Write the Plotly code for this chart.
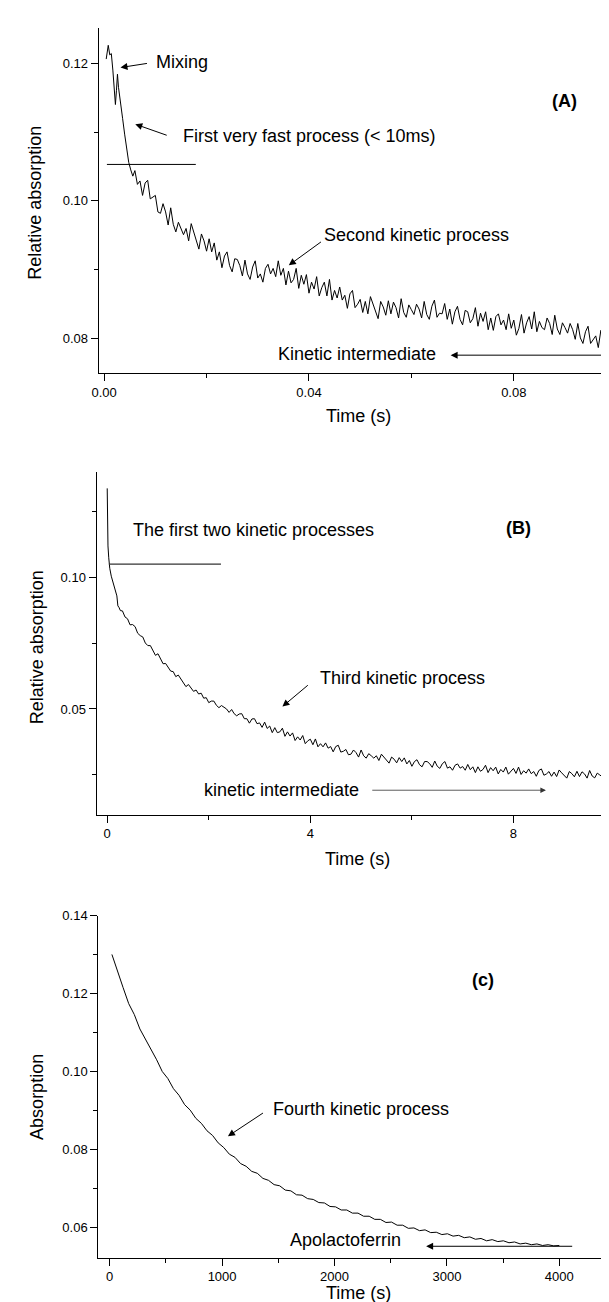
import plotly.graph_objects as go

# ---------------- Panel A data (time in s, relative absorption) ----------------
A_t_early = [0.0004, 0.0008, 0.0011, 0.0014, 0.0017, 0.0020, 0.0022, 0.0024, 0.0026,
             0.0028, 0.0030, 0.0033, 0.0036, 0.0040, 0.0044, 0.0048, 0.0052, 0.0056]
A_y_early = [0.1206, 0.1226, 0.1212, 0.1214, 0.1190, 0.1165, 0.1140, 0.1160, 0.1184,
             0.1165, 0.1152, 0.1138, 0.1120, 0.1097, 0.1074, 0.1056, 0.1045, 0.1036]
A_t_start = 0.0060
A_t_step = 0.0005
A_y_late = [
    0.1044, 0.1024, 0.1029, 0.1008, 0.1026, 0.1030, 0.1003, 0.1005, 0.1008, 0.0984,
    0.0982, 0.0996, 0.0984, 0.0965, 0.0990, 0.0966, 0.0955, 0.0969, 0.0960, 0.0951,
    0.0960, 0.0942, 0.0967, 0.0954, 0.0941, 0.0930, 0.0952, 0.0942, 0.0927, 0.0945,
    0.0926, 0.0939, 0.0914, 0.0926, 0.0903, 0.0920, 0.0926, 0.0906, 0.0897, 0.0916,
    0.0915, 0.0906, 0.0891, 0.0914, 0.0894, 0.0886, 0.0904, 0.0913, 0.0888, 0.0894,
    0.0882, 0.0902, 0.0908, 0.0894, 0.0902, 0.0890, 0.0913, 0.0892, 0.0902, 0.0878,
    0.0898, 0.0881, 0.0886, 0.0902, 0.0873, 0.0892, 0.0879, 0.0893, 0.0866, 0.0882,
    0.0872, 0.0890, 0.0862, 0.0874, 0.0882, 0.0862, 0.0886, 0.0856, 0.0870, 0.0859,
    0.0875, 0.0856, 0.0863, 0.0844, 0.0865, 0.0870, 0.0845, 0.0850, 0.0857, 0.0838,
    0.0854, 0.0836, 0.0861, 0.0850, 0.0839, 0.0829, 0.0854, 0.0846, 0.0834, 0.0855,
    0.0836, 0.0853, 0.0845, 0.0830, 0.0858, 0.0838, 0.0831, 0.0849, 0.0842, 0.0835,
    0.0850, 0.0843, 0.0830, 0.0854, 0.0835, 0.0828, 0.0847, 0.0856, 0.0831, 0.0837,
    0.0836, 0.0851, 0.0828, 0.0843, 0.0821, 0.0839, 0.0847, 0.0828, 0.0820, 0.0841,
    0.0839, 0.0823, 0.0829, 0.0845, 0.0818, 0.0837, 0.0825, 0.0839, 0.0813, 0.0830,
    0.0812, 0.0832, 0.0836, 0.0820, 0.0827, 0.0813, 0.0836, 0.0815, 0.0827, 0.0805,
    0.0815, 0.0835, 0.0808, 0.0823, 0.0832, 0.0814, 0.0839, 0.0810, 0.0825, 0.0816,
    0.0813, 0.0830, 0.0822, 0.0806, 0.0834, 0.0814, 0.0806, 0.0823, 0.0816, 0.0808,
    0.0822, 0.0813, 0.0799, 0.0822, 0.0801, 0.0793, 0.0810, 0.0818, 0.0793, 0.0798,
    0.0804, 0.0787, 0.0812, 0.0801, 0.0790, 0.0781, 0.0805, 0.0798,
]

# ---------------- Panel B data ----------------
B_t_early = [0.0, 0.005, 0.015, 0.03, 0.05, 0.08, 0.11, 0.14, 0.17, 0.19, 0.21, 0.23, 0.26]
B_y_early = [0.1339, 0.1250, 0.1120, 0.1075, 0.1035, 0.1005, 0.0985, 0.0962, 0.0945,
             0.0930, 0.0892, 0.0887, 0.0874]
B_t_start = 0.30
B_t_step = 0.05
B_y_late = [
    0.0873, 0.0850, 0.0843, 0.0820, 0.0821, 0.0813, 0.0788, 0.0779, 0.0774, 0.0751,
    0.0741, 0.0741, 0.0724, 0.0704, 0.0710, 0.0688, 0.0672, 0.0673, 0.0659, 0.0644,
    0.0642, 0.0623, 0.0629, 0.0614, 0.0599, 0.0585, 0.0593, 0.0581, 0.0567, 0.0572,
    0.0557, 0.0560, 0.0541, 0.0543, 0.0524, 0.0530, 0.0530, 0.0514, 0.0505, 0.0513,
    0.0508, 0.0500, 0.0487, 0.0498, 0.0482, 0.0474, 0.0481, 0.0482, 0.0463, 0.0463,
    0.0446, 0.0462, 0.0463, 0.0444, 0.0447, 0.0430, 0.0450, 0.0426, 0.0435, 0.0410,
    0.0429, 0.0410, 0.0413, 0.0427, 0.0396, 0.0413, 0.0397, 0.0409, 0.0380, 0.0394,
    0.0382, 0.0399, 0.0368, 0.0379, 0.0385, 0.0364, 0.0386, 0.0356, 0.0368, 0.0356,
    0.0371, 0.0351, 0.0357, 0.0337, 0.0357, 0.0362, 0.0336, 0.0339, 0.0346, 0.0326,
    0.0328, 0.0344, 0.0334, 0.0317, 0.0344, 0.0322, 0.0313, 0.0330, 0.0322, 0.0313,
    0.0322, 0.0304, 0.0328, 0.0316, 0.0304, 0.0294, 0.0317, 0.0309, 0.0295, 0.0315,
    0.0300, 0.0314, 0.0291, 0.0304, 0.0282, 0.0300, 0.0307, 0.0288, 0.0280, 0.0300,
    0.0300, 0.0292, 0.0278, 0.0302, 0.0282, 0.0274, 0.0292, 0.0300, 0.0275, 0.0280,
    0.0267, 0.0286, 0.0291, 0.0275, 0.0281, 0.0267, 0.0289, 0.0269, 0.0280, 0.0258,
    0.0280, 0.0263, 0.0270, 0.0286, 0.0258, 0.0277, 0.0265, 0.0279, 0.0253, 0.0270,
    0.0260, 0.0279, 0.0252, 0.0265, 0.0274, 0.0255, 0.0279, 0.0251, 0.0265, 0.0256,
    0.0272, 0.0254, 0.0262, 0.0244, 0.0266, 0.0272, 0.0248, 0.0253, 0.0262, 0.0244,
    0.0260, 0.0243, 0.0268, 0.0257, 0.0247, 0.0237, 0.0262, 0.0254, 0.0242, 0.0263,
    0.0243, 0.0261, 0.0253, 0.0237, 0.0266, 0.0245, 0.0238, 0.0256, 0.0249, 0.0242,
    0.0257, 0.0235, 0.0251, 0.0282,
]

# ---------------- Panel C data ----------------
C_t_start = 20.0
C_t_end = 4000.0
C_y = [
    0.1301, 0.1256, 0.1216, 0.1175, 0.1147, 0.1110, 0.1084, 0.1054, 0.1031, 0.1001,
    0.0983, 0.0957, 0.0940, 0.0916, 0.0902, 0.0881, 0.0868, 0.0849, 0.0837, 0.0818,
    0.0806, 0.0789, 0.0781, 0.0765, 0.0758, 0.0745, 0.0740, 0.0727, 0.0722, 0.0711,
    0.0708, 0.0697, 0.0695, 0.0685, 0.0684, 0.0675, 0.0673, 0.0665, 0.0664, 0.0655,
    0.0654, 0.0646, 0.0646, 0.0638, 0.0638, 0.0630, 0.0630, 0.0622, 0.0622, 0.0614,
    0.0615, 0.0607, 0.0607, 0.0599, 0.0600, 0.0593, 0.0595, 0.0588, 0.0589, 0.0583,
    0.0585, 0.0579, 0.0581, 0.0575, 0.0577, 0.0571, 0.0573, 0.0567, 0.0570, 0.0565,
    0.0567, 0.0562, 0.0564, 0.0559, 0.0561, 0.0557, 0.0559, 0.0555, 0.0557, 0.0554,
    0.0555,
]

# tick labels
A_xticks = [0.00, 0.04, 0.08]
A_yticks = [0.08, 0.10, 0.12]
B_xticks = [0, 4, 8]
B_yticks = [0.05, 0.10]
C_xticks = [0, 1000, 2000, 3000, 4000]
C_yticks = [0.06, 0.08, 0.10, 0.12, 0.14]

# build sampling grids
A_t = A_t_early + [round(A_t_start + A_t_step * i, 6) for i in range(len(A_y_late))]
A_y = A_y_early + A_y_late
B_t = B_t_early + [round(B_t_start + B_t_step * i, 4) for i in range(len(B_y_late))]
B_y = B_y_early + B_y_late
nC = len(C_y)
C_t = [C_t_start + (C_t_end - C_t_start) * i / (nC - 1) for i in range(nC)]

W, H = 609, 1302
FONT = "Liberation Sans, Arial, sans-serif"


def px(x):
    return x / W


def py(y):
    return 1 - y / H


fig = go.Figure()
line = dict(color="black", width=1)
fig.add_trace(go.Scatter(x=A_t, y=A_y, mode="lines", line=line, xaxis="x", yaxis="y"))
fig.add_trace(go.Scatter(x=B_t, y=B_y, mode="lines", line=line, xaxis="x2", yaxis="y2"))
fig.add_trace(go.Scatter(x=C_t, y=C_y, mode="lines", line=line, xaxis="x3", yaxis="y3"))


def axis(domain, rng, ticks, fmt, minor_dtick, anchor):
    return dict(
        domain=domain, range=rng, anchor=anchor,
        tickmode="array", tickvals=ticks, tickformat=fmt,
        showline=True, linecolor="black", linewidth=1.3,
        ticks="outside", ticklen=7, tickwidth=1.2, tickcolor="black",
        minor=dict(dtick=minor_dtick, tick0=0, ticks="outside", ticklen=4,
                   tickwidth=1, tickcolor="black"),
        showgrid=False, zeroline=False,
        tickfont=dict(family=FONT, size=13, color="black"),
    )


layout = dict(
    width=W, height=H,
    margin=dict(l=0, r=0, t=0, b=0),
    paper_bgcolor="white", plot_bgcolor="white",
    showlegend=False,
    font=dict(family=FONT, color="black"),
    xaxis=axis([px(84.8), px(608.2)], [-0.00104, 0.1], A_xticks, ".2f", 0.02, "y"),
    yaxis=axis([py(360), py(13.5)], [0.075, 0.12505], A_yticks, ".2f", 0.01, "x"),
    xaxis2=axis([px(82.6), px(607)], [-0.208, 10.0], B_xticks, "d", 2, "y2"),
    yaxis2=axis([py(804), py(459)], [0.0098, 0.1403], B_yticks, ".2f", 0.025, "x2"),
    xaxis3=axis([px(84.4), px(607.5)], [-100, 4500], C_xticks, "d", 500, "y3"),
    yaxis3=axis([py(1249.3), py(905.7)], [0.0524, 0.14], C_yticks, ".2f", 0.01, "x3"),
)
fig.update_layout(**layout)

ann = []
TF = dict(family=FONT, size=18, color="black")


def text(x, y, s, xr, yr, bold=False, angle=0, pad=1):
    ann.append(dict(x=x, y=y, xref=xr, yref=yr, text=("<b>%s</b>" % s if bold else s),
                    showarrow=False, xanchor="center", yanchor="middle",
                    font=TF, textangle=angle, borderpad=pad))


def arrow(x, y, ax, ay, xr, yr, color="black", width=1):
    ann.append(dict(x=x, y=y, ax=ax, ay=ay, xref=xr, yref=yr, axref=xr, ayref=yr,
                    text="", showarrow=True, arrowhead=2, arrowsize=1.4,
                    arrowwidth=width, arrowcolor=color, standoff=0, startstandoff=0))


# axis titles (paper coords from pixel positions)
text(px(20), py(189), "Relative absorption", "paper", "paper", angle=-90)
text(px(347.5), py(403), "Time (s)", "paper", "paper")
text(px(22), py(636), "Relative absorption", "paper", "paper", angle=-90)
text(px(346), py(849), "Time (s)", "paper", "paper")
text(px(22), py(1088), "Absorption", "paper", "paper", angle=-90)
text(px(347), py(1285), "Time (s)", "paper", "paper", pad=0)

# Panel A annotations
text(0.01521, 0.1202, "Mixing", "x", "y")
arrow(0.00319, 0.11937, 0.00865, 0.1200, "x", "y")
text(0.04012, 0.10946, "First very fast process (&lt; 10ms)", "x", "y")
arrow(0.00608, 0.11114, 0.01251, 0.10946, "x", "y")
text(0.06106, 0.09506, "Second kinetic process", "x", "y")
arrow(0.03606, 0.09065, 0.04263, 0.0942, "x", "y")
text(0.0493, 0.07783, "Kinetic intermediate", "x", "y")
arrow(0.06766, 0.0776, 0.1002, 0.0776, "x", "y")
text(0.0899, 0.11444, "(A)", "x", "y", bold=True)

# Panel B annotations
text(2.88, 0.1181, "The first two kinetic processes", "x2", "y2")
text(8.10, 0.1190, "(B)", "x2", "y2", bold=True)
text(5.81, 0.0618, "Third kinetic process", "x2", "y2")
arrow(3.45, 0.0509, 3.98, 0.0595, "x2", "y2")
text(3.43, 0.0191, "kinetic intermediate", "x2", "y2")
arrow(8.64, 0.0191, 5.19, 0.0191, "x2", "y2", color="#333333", width=0.8)

# Panel C annotations
text(3323, 0.1235, "(c)", "x3", "y3", bold=True)
text(2233, 0.0906, "Fourth kinetic process", "x3", "y3")
arrow(1052, 0.0835, 1377, 0.0897, "x3", "y3")
text(2094, 0.0569, "Apolactoferrin", "x3", "y3")
arrow(2815, 0.0553, 4128, 0.0553, "x3", "y3")

fig.update_layout(annotations=ann)

# horizontal guide lines
fig.add_shape(type="line", xref="x", yref="y", x0=0.00054, x1=0.0179, y0=0.1053, y1=0.1053,
              line=dict(color="black", width=1))
fig.add_shape(type="line", xref="x2", yref="y2", x0=0.033, x1=2.24, y0=0.1051, y1=0.1051,
              line=dict(color="#333333", width=1.2))

fig.write_html("out.html")
